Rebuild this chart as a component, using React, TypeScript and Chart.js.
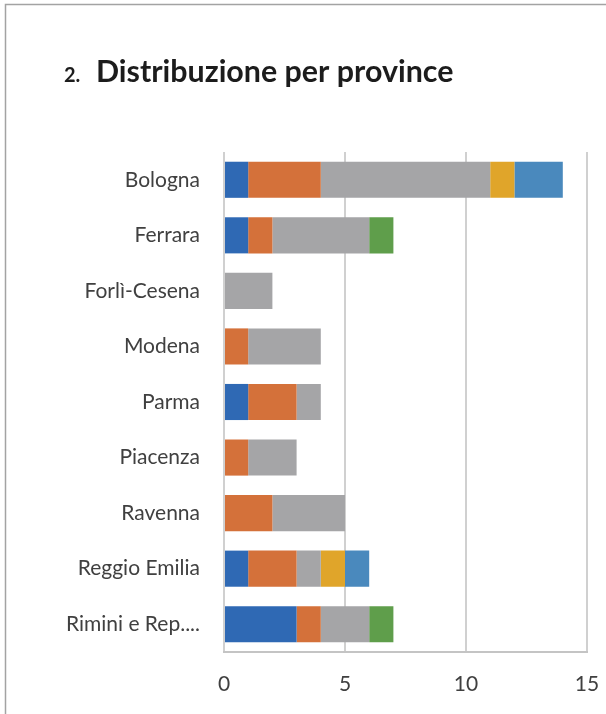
import React, { useEffect, useRef } from "react";
import { Chart, registerables } from "chart.js";

Chart.register(...registerables);

const titleNumber = "2.";
const titleText = "Distribuzione per province";

const categories = [
  "Bologna",
  "Ferrara",
  "Forlì-Cesena",
  "Modena",
  "Parma",
  "Piacenza",
  "Ravenna",
  "Reggio Emilia",
  "Rimini e Rep....",
];

const serie1 = [1, 1, 0, 0, 1, 0, 0, 1, 3];
const serie2 = [3, 1, 0, 1, 2, 1, 2, 2, 1];
const serie3 = [7, 4, 2, 3, 1, 2, 3, 1, 2];
const serie4 = [1, 0, 0, 0, 0, 0, 0, 1, 0];
const serie5 = [2, 0, 0, 0, 0, 0, 0, 1, 0];
const serie6 = [0, 1, 0, 0, 0, 0, 0, 0, 1];

const xTicks = [0, 5, 10, 15];

const seriesNames = ["Serie 1", "Serie 2", "Serie 3", "Serie 4", "Serie 5", "Serie 6"];
const seriesColors = ["#2f69b4", "#d4713a", "#a5a5a7", "#e0a52a", "#4a89bd", "#5f9e4b"];

const W = 606;
const H = 714;

const framePlugin = {
  id: "frameTitle",
  afterDraw(chart: any) {
    const ctx = chart.ctx as CanvasRenderingContext2D;
    ctx.save();
    ctx.strokeStyle = "#a3a3a3";
    ctx.lineWidth = 1.5;
    ctx.beginPath();
    ctx.moveTo(5.5, H);
    ctx.lineTo(5.5, 4.5);
    ctx.lineTo(W, 4.5);
    ctx.stroke();
    ctx.fillStyle = "#1c1c1c";
    ctx.textBaseline = "alphabetic";
    ctx.textAlign = "left";
    ctx.font = "bold 20px Lato";
    ctx.fillText(titleNumber, 64, 82);
    ctx.font = "bold 28px Lato";
    const w = ctx.measureText(titleText).width;
    const size = Math.round((28 * 358) / w * 10) / 10;
    ctx.font = `bold ${size}px Lato`;
    ctx.fillText(titleText, 96, 82);
    ctx.restore();
  },
};

export default function App() {
  const ref = useRef<HTMLCanvasElement | null>(null);

  useEffect(() => {
    document.body.style.margin = "0";
    document.body.style.background = "#ffffff";
    const canvas = ref.current;
    if (!canvas) return;
    const dataArrays = [serie1, serie2, serie3, serie4, serie5, serie6];
    const chart = new Chart(canvas, {
      type: "bar",
      data: {
        labels: categories,
        datasets: dataArrays.map((d, i) => ({
          label: seriesNames[i],
          data: d,
          backgroundColor: seriesColors[i],
          borderWidth: 0,
          barPercentage: 0.65,
          categoryPercentage: 1,
        })),
      },
      options: {
        indexAxis: "y",
        responsive: false,
        animation: false,
        devicePixelRatio: 1,
        layout: { padding: { top: 152, right: 19, left: 0, bottom: 0 } },
        plugins: {
          legend: { display: false },
          title: { display: false },
          tooltip: { enabled: false },
        },
        scales: {
          x: {
            stacked: true,
            min: 0,
            max: 15,
            afterBuildTicks: (scale: any) => {
              scale.ticks = xTicks.map((v) => ({ value: v }));
            },
            afterFit: (scale: any) => {
              scale.height = 62;
              scale.paddingLeft = 0;
              scale.paddingRight = 0;
            },
            grid: {
              color: "#d0d0d0",
              lineWidth: 2,
              drawTicks: false,
            },
            border: { display: true, color: "#c4c4c4", width: 2 },
            ticks: {
              padding: 20,
              color: "#404040",
              font: { family: "Lato", size: 21 },
            },
          },
          y: {
            stacked: true,
            afterFit: (scale: any) => {
              scale.width = 224;
              scale.paddingTop = 0;
              scale.paddingBottom = 0;
            },
            grid: { display: false, drawTicks: false },
            border: { display: false },
            ticks: {
              padding: 24,
              color: "#404040",
              font: { family: "Lato", size: 21 },
              autoSkip: false,
            },
          },
        },
      },
      plugins: [framePlugin],
    } as any);
    return () => chart.destroy();
  }, []);

  return (
    <div style={{ width: W, height: H, background: "#fff" }}>
      <canvas ref={ref} width={W} height={H} style={{ display: "block", width: W, height: H }} />
    </div>
  );
}
